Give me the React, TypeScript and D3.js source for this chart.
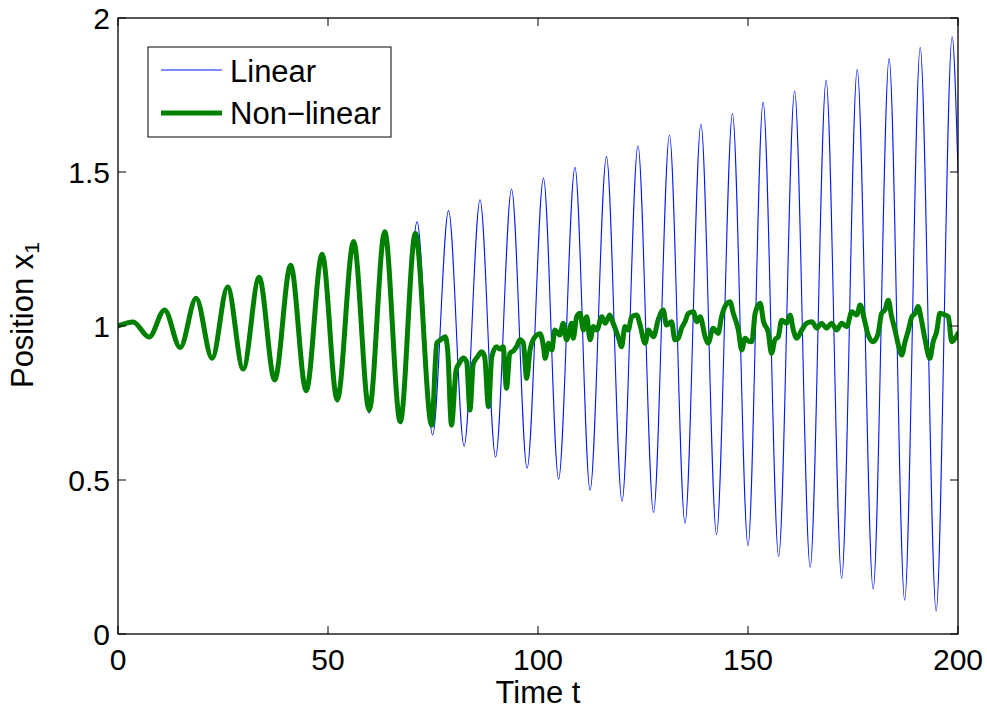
import React from "react";
import * as d3 from "d3";

// ---- data ----
const xTicks = [0, 50, 100, 150, 200];
const yTicks = [0, 0.5, 1, 1.5, 2];
const yTickLabels = ["0", "0.5", "1", "1.5", "2"];
const seriesNames = ["Linear", "Non\u2212linear"];

// Linear response: successive extrema (time, position)
const linearT = [
  0, 3.6, 7.4, 11.1, 14.8, 18.6, 22.4, 26.1, 29.8, 33.6, 37.3, 41.1, 44.8, 48.6, 52.3,
  56.2, 59.8, 63.7, 67.4, 71.2, 74.9, 78.7, 82.4, 86.2, 89.9, 93.7, 97.4, 101.3, 104.9,
  108.8, 112.4, 116.3, 120.0, 123.8, 127.5, 131.3, 135.0, 138.8, 142.5, 146.3, 150.0,
  153.6, 157.3, 161.1, 164.8, 168.6, 172.3, 176.0, 179.8, 183.6, 187.3, 191.0, 194.8,
  198.6, 200,
];
const linearV = [
  1.0, 1.013, 0.964, 1.052, 0.93, 1.09, 0.895, 1.127, 0.86, 1.16, 0.825, 1.197, 0.79,
  1.235, 0.753, 1.27, 0.717, 1.305, 0.682, 1.338, 0.646, 1.375, 0.61, 1.41, 0.574, 1.445,
  0.538, 1.48, 0.503, 1.515, 0.467, 1.55, 0.431, 1.585, 0.395, 1.62, 0.36, 1.655, 0.323,
  1.69, 0.287, 1.727, 0.251, 1.763, 0.2165, 1.798, 0.181, 1.833, 0.146, 1.868, 0.11,
  1.904, 0.075, 1.939, 1.5,
];

// Non-linear response
const nonlinearT = [
  0, 3.6, 7.4, 11.1, 14.8, 18.6, 22.4, 26.1, 29.8, 33.6, 37.3, 41.1, 44.8, 48.6, 52.2,
  56.1, 59.8, 63.5, 67.2, 70.8, 74.7, 75.9, 76.8, 77.9, 78.5, 79.4, 80.5, 81.3, 82.2,
  83.0, 83.8, 84.6, 85.6, 86.6, 87.3, 88.2, 89.0, 90.1, 90.9, 91.7, 92.5, 93.3, 94.2,
  94.9, 95.7, 96.5, 97.3, 98.1, 99.3, 100.5, 101.3, 101.7, 102.5, 103.3, 104.0, 105.2,
  106.0, 106.8, 108.0, 108.4, 109.2, 110.0, 110.8, 111.6, 112.4, 113.2, 114.0, 115.2,
  116.0, 117.1, 117.9, 119.1, 119.9, 120.7, 121.5, 122.3, 123.5, 124.3, 125.5, 126.3,
  127.5, 128.6, 129.8, 130.6, 131.8, 132.6, 133.4, 134.2, 135.0, 135.8, 137.0, 137.8,
  138.6, 139.8, 140.5, 141.7, 142.9, 143.7, 144.5, 145.7, 146.5, 147.7, 148.5, 149.3,
  150.2, 150.9, 151.7, 152.9, 153.7, 154.8, 155.6, 156.4, 157.2, 158.0, 159.2, 160.0,
  160.8, 161.6, 162.8, 164.0, 165.2, 166.4, 167.5, 168.7, 169.9, 171.1, 172.3, 173.5,
  174.7, 175.9, 176.7, 177.9, 178.6, 179.8, 181.0, 181.8, 182.6, 183.4, 184.2, 185.0,
  185.8, 186.6, 187.4, 188.2, 189.0, 189.8, 190.5, 191.3, 192.1, 193.3, 194.1, 194.9,
  195.7, 196.9, 197.7, 198.5, 199.3, 200,
];
const nonlinearV = [
  1.0, 1.013, 0.964, 1.052, 0.93, 1.09, 0.895, 1.127, 0.86, 1.158, 0.825, 1.197, 0.79,
  1.233, 0.76, 1.274, 0.727, 1.306, 0.69, 1.3, 0.678, 0.944, 0.955, 0.965, 0.92, 0.678,
  0.857, 0.88, 0.896, 0.884, 0.727, 0.878, 0.9, 0.916, 0.9, 0.738, 0.9, 0.933, 0.925,
  0.933, 0.798, 0.911, 0.92, 0.933, 0.955, 0.945, 0.83, 0.922, 0.965, 0.975, 0.933,
  0.895, 0.944, 0.922, 0.987, 0.971, 1.009, 0.955, 1.009, 0.96, 1.03, 1.041, 0.987,
  1.03, 0.955, 0.998, 0.987, 1.03, 1.009, 1.036, 1.009, 0.965, 0.933, 0.998, 0.987,
  1.03, 1.036, 1.003, 0.944, 0.987, 0.965, 1.019, 1.052, 1.003, 1.014, 0.955, 0.96,
  0.993, 1.014, 1.041, 1.046, 1.014, 1.03, 0.965, 0.944, 0.993, 0.976, 1.03, 1.063,
  1.079, 1.041, 0.987, 0.922, 0.96, 0.95, 0.949, 1.041, 1.074, 1.014, 0.981, 0.911,
  0.955, 0.965, 1.019, 1.009, 1.036, 0.987, 0.96, 0.987, 1.009, 1.014, 0.993, 1.009,
  0.993, 1.009, 0.987, 1.009, 0.998, 1.046, 1.036, 1.068, 1.009, 0.971, 0.949, 0.976,
  1.041, 1.052, 1.084, 1.03, 0.987, 0.938, 0.906, 0.949, 0.987, 1.03, 1.041, 1.063,
  1.019, 0.96, 0.895, 0.949, 0.981, 1.041, 1.036, 1.03, 0.949, 0.96, 0.976,
];

const W = 987;
const H = 709;
const M = { left: 118, right: 958, top: 18, bottom: 634 };
const FONT = "'Liberation Sans', Arial, Helvetica, sans-serif";
const BLUE = "#0018ff";
const GREEN = "#008000";

export default function App() {
  const x = d3.scaleLinear().domain([0, 200]).range([M.left, M.right]);
  const y = d3.scaleLinear().domain([0, 2]).range([M.bottom, M.top]);

  const line = d3
    .line<[number, number]>()
    .x((d) => x(d[0]))
    .y((d) => y(d[1]))
    .curve(d3.curveMonotoneX);

  const linPts = linearT.map((t, i) => [t, linearV[i]] as [number, number]);
  const nlPts = nonlinearT.map((t, i) => [t, nonlinearV[i]] as [number, number]);

  const tickLen = 8;

  return (
    <svg
      width={W}
      height={H}
      style={{ position: "absolute", left: 0, top: 0, background: "#fff" }}
      fontFamily={FONT}
    >
      <rect x={0} y={0} width={W} height={H} fill="#fff" />
      <defs>
        <clipPath id="plotclip">
          <rect x={M.left} y={M.top} width={M.right - M.left} height={M.bottom - M.top} />
        </clipPath>
      </defs>

      <g clipPath="url(#plotclip)">
        <path d={line(linPts) || ""} fill="none" stroke={BLUE} strokeWidth={1.1} />
        <path
          d={line(nlPts) || ""}
          fill="none"
          stroke={GREEN}
          strokeWidth={5}
          strokeLinejoin="round"
          strokeLinecap="round"
        />
      </g>

      {/* axes box */}
      <rect
        x={M.left}
        y={M.top}
        width={M.right - M.left}
        height={M.bottom - M.top}
        fill="none"
        stroke="#000"
        strokeWidth={1.3}
      />

      {/* x ticks */}
      {xTicks.map((t) => (
        <g key={"xt" + t}>
          <line x1={x(t)} x2={x(t)} y1={M.bottom} y2={M.bottom - tickLen} stroke="#000" strokeWidth={1} />
          <line x1={x(t)} x2={x(t)} y1={M.top} y2={M.top + tickLen} stroke="#000" strokeWidth={1} />
          <text x={x(t)} y={670} textAnchor="middle" fontSize={30} fill="#000">
            {String(t)}
          </text>
        </g>
      ))}

      {/* y ticks */}
      {yTicks.map((v, i) => (
        <g key={"yt" + v}>
          <line x1={M.left} x2={M.left + tickLen} y1={y(v)} y2={y(v)} stroke="#000" strokeWidth={1} />
          <line x1={M.right} x2={M.right - tickLen} y1={y(v)} y2={y(v)} stroke="#000" strokeWidth={1} />
          <text x={110} y={y(v) + 11} textAnchor="end" fontSize={30} fill="#000">
            {yTickLabels[i]}
          </text>
        </g>
      ))}

      {/* axis labels */}
      <text x={(M.left + M.right) / 2} y={703} textAnchor="middle" fontSize={31} fill="#000">
        Time t
      </text>
      <text
        transform={`translate(33, 315) rotate(-90)`}
        textAnchor="middle"
        fontSize={31}
        fill="#000"
      >
        Position x<tspan fontSize={21} dy={6}>1</tspan>
      </text>

      {/* legend */}
      <g>
        <rect x={148} y={47} width={243} height={90} fill="#fff" stroke="#000" strokeWidth={1} />
        <line x1={161} x2={222} y1={70} y2={70} stroke={BLUE} strokeWidth={1.1} />
        <line x1={161} x2={222} y1={113} y2={113} stroke={GREEN} strokeWidth={5} />
        <text x={230} y={82} fontSize={31} fill="#000">
          {seriesNames[0]}
        </text>
        <text x={230} y={124} fontSize={31} fill="#000">
          {seriesNames[1]}
        </text>
      </g>
    </svg>
  );
}
